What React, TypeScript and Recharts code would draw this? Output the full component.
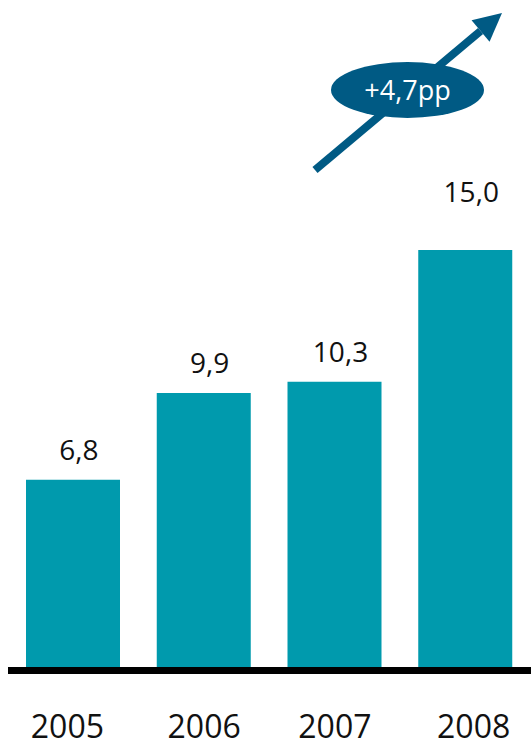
import { Bar, BarChart, Customized, LabelList, ReferenceLine, XAxis, YAxis } from 'recharts'

const years = ['2005', '2006', '2007', '2008']
const shares = [6.8, 9.9, 10.3, 15.0]
const growthLabel = '+4,7pp'

const data = years.map((year, i) => ({ year, share: shares[i] }))

const BAR = '#009aad'
const NAVY = '#005a84'
const FONT = '"Open Sans", "Noto Sans", sans-serif'

const fmt = (v: number) => v.toFixed(1).replace('.', ',')

function ValueLabel(props: any) {
  const { x, y, width, value, index } = props
  // last bar label sits higher, leaving room for the arrow
  const lift = index === years.length - 1 ? 48 : 20
  return (
    <text
      x={x + width / 2 + 6}
      y={y - lift}
      textAnchor="middle"
      fontSize={28}
      fontFamily={FONT}
      fill="#111"
    >
      {fmt(Number(value))}
    </text>
  )
}

function YearTick(props: any) {
  const { x, y, payload, index } = props
  const nudge = index === 0 ? -6 : index === years.length - 1 ? 8 : 0
  return (
    <text x={x + nudge} y={y + 59} textAnchor="middle" fontSize={32} fontFamily={FONT} fill="#111">
      {payload.value}
    </text>
  )
}

function GrowthArrow() {
  const x1 = 315
  const y1 = 170
  const tipX = 502
  const tipY = 13
  const dx = tipX - x1
  const dy = tipY - y1
  const len = Math.hypot(dx, dy)
  const ux = dx / len
  const uy = dy / len
  const head = 28
  const half = 14
  const bx = tipX - ux * head
  const by = tipY - uy * head
  const px = -uy
  const py = ux
  return (
    <g>
      <line x1={x1} y1={y1} x2={bx} y2={by} stroke={NAVY} strokeWidth={8} />
      <polygon
        points={`${tipX},${tipY} ${bx + px * half},${by + py * half} ${bx - px * half},${by - py * half}`}
        fill={NAVY}
      />
      <ellipse cx={407.5} cy={90} rx={76.5} ry={28} fill={NAVY} />
      <text x={407.5} y={99.5} textAnchor="middle" fontSize={27} fontFamily={FONT} fill="#fff">
        {growthLabel}
      </text>
    </g>
  )
}

export default function App() {
  return (
    <div style={{ position: 'absolute', left: 0, top: 0, width: 531, height: 746, background: '#fff' }}>
      <BarChart
        width={531}
        height={746}
        data={data}
        margin={{ top: 250, right: 0, bottom: 0, left: 8 }}
      >
        <XAxis
          dataKey="year"
          axisLine={false}
          tickLine={false}
          height={75.5}
          tick={<YearTick />}
          interval={0}
        />
        <YAxis hide domain={[0, 15]} />
        <Bar dataKey="share" fill={BAR} barSize={94} isAnimationActive={false}>
          <LabelList dataKey="share" content={<ValueLabel />} />
        </Bar>
        <ReferenceLine y={0} stroke="#000" strokeWidth={7} />
        <Customized component={GrowthArrow} />
      </BarChart>
    </div>
  )
}
